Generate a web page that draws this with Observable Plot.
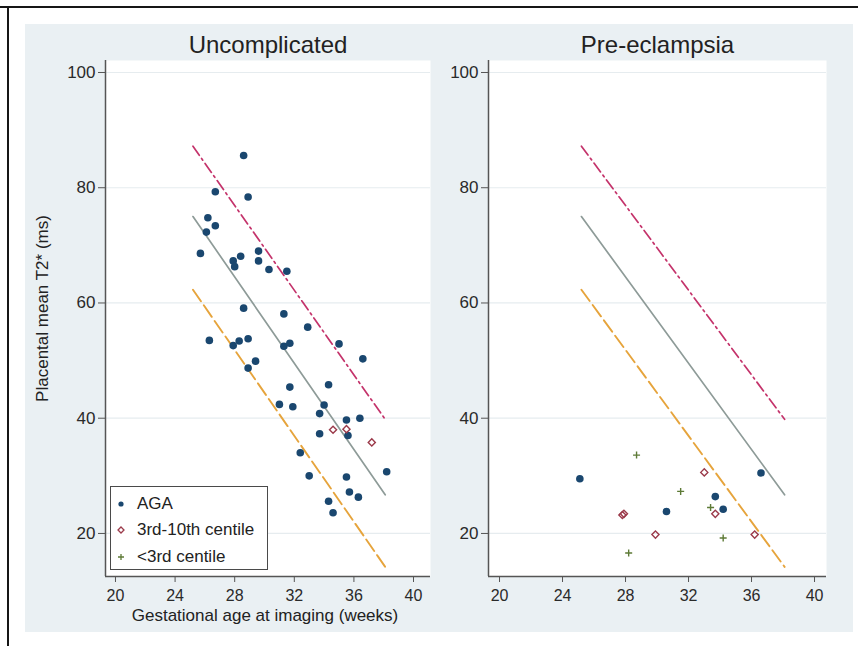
<!DOCTYPE html>
<html>
<head>
<meta charset="utf-8">
<script src="https://cdn.jsdelivr.net/npm/d3@7"></script>
<script src="https://cdn.jsdelivr.net/npm/@observablehq/plot@0.6"></script>
<style>
  body { margin: 0; background: #fff; }
  #wrap { position: relative; width: 858px; height: 646px; overflow: hidden; font-family: "Liberation Sans", Arial, sans-serif; background: #fff; }
  #bg { position: absolute; left: 25px; top: 24px; width: 828px; height: 608px; background: #eaf0f3; }
  #bt { position: absolute; left: 0; top: 6px; width: 858px; height: 2px; background: #161616; }
  #bl { position: absolute; left: 7px; top: 6px; width: 2px; height: 640px; background: #161616; }
  .panel { position: absolute; top: 0; }
  #legend { position: absolute; left: 110px; top: 486px; width: 158px; height: 84px; background: #fff; border: 1.5px solid #4a4a4a; box-sizing: border-box; }
  .lrow { position: absolute; left: 0; height: 20px; line-height: 20px; font-size: 17px; color: #222; white-space: nowrap; }
  .lrow svg { position: absolute; left: 4px; top: 4px; }
  .lrow span { position: absolute; left: 26px; top: 0; }
</style>
</head>
<body>
<div id="wrap">
  <div id="bg"></div>
  <div id="bt"></div>
  <div id="bl"></div>
</div>
<script>
// ---------- data ----------
const panelTitles = ["Uncomplicated", "Pre-eclampsia"];
const seriesNames = ["AGA", "3rd-10th centile", "<3rd centile"];
const xTicks = [20, 24, 28, 32, 36, 40];
const yTicks = [20, 40, 60, 80, 100];
const xTitle = "Gestational age at imaging (weeks)";
const yTitle = "Placental mean T2* (ms)";

// Uncomplicated: AGA
const uncAgaX = [28.6, 26.7, 28.9, 26.2, 26.7, 26.1, 25.7, 27.9, 28.0, 28.4, 29.6, 29.6, 30.3, 31.5, 28.6,
  31.3, 32.9, 26.3, 28.3, 28.9, 27.9, 31.3, 31.7, 35.0, 36.6, 29.4, 28.9, 31.7, 34.3, 31.0,
  31.9, 34.0, 33.7, 35.5, 36.4, 33.7, 35.6, 32.4, 33.0, 35.5, 38.2, 35.7, 36.3, 34.3, 34.6];
const uncAgaY = [85.6, 79.3, 78.4, 74.8, 73.4, 72.3, 68.6, 67.3, 66.3, 68.1, 69.0, 67.3, 65.8, 65.5, 59.1,
  58.1, 55.8, 53.5, 53.4, 53.8, 52.6, 52.5, 53.0, 52.9, 50.3, 49.9, 48.7, 45.4, 45.8, 42.4,
  42.0, 42.3, 40.8, 39.7, 40.0, 37.3, 37.0, 34.0, 30.0, 29.8, 30.7, 27.2, 26.3, 25.6, 23.6];
// Uncomplicated: 3rd-10th centile
const uncMidX = [34.6, 35.5, 37.2];
const uncMidY = [38.0, 38.1, 35.8];
// Uncomplicated: <3rd centile
const uncLowX = [];
const uncLowY = [];

// Pre-eclampsia
const peAgaX = [25.1, 30.6, 33.7, 34.2, 36.6];
const peAgaY = [29.5, 23.8, 26.4, 24.2, 30.5];
const peMidX = [27.8, 27.9, 29.9, 33.0, 33.7, 36.2];
const peMidY = [23.2, 23.4, 19.8, 30.6, 23.4, 19.8];
const peLowX = [28.7, 31.5, 33.4, 34.2, 28.2];
const peLowY = [33.6, 27.3, 24.5, 19.2, 16.6];

// Reference centile lines
const centileX = [25.2, 38.1];
const centileUpper = [87.2, 39.8];
const centileMedian = [75.0, 26.7];
const centileLower = [62.3, 14.2];

// ---------- styling ----------
const colAga = "#1a476f", colMid = "#9b3a4a", colLow = "#5d7a36";
const colUpper = "#c4336b", colMedian = "#8e9b98", colLower = "#e6a43c";
const font = "'Liberation Sans', Arial, sans-serif";
const yDomain = [12.53, 102.08];

const zip = (xs, ys) => xs.map((x, i) => ({x, y: ys[i]}));

function makePanel({width, ml, mr, xDomain, title, aga, mid, low, showYLabel, showXLabel}) {
  const marks = [
    Plot.frame({fill: "white", stroke: "none"}),
    Plot.gridY(yTicks, {stroke: "#e6ecef", strokeOpacity: 1, strokeWidth: 1.2}),
    Plot.line(zip(centileX, centileUpper), {x: "x", y: "y", stroke: colUpper, strokeWidth: 1.7, strokeDasharray: "11,4,2,4"}),
    Plot.line(zip(centileX, centileMedian), {x: "x", y: "y", stroke: colMedian, strokeWidth: 1.7}),
    Plot.line(zip(centileX, centileLower), {x: "x", y: "y", stroke: colLower, strokeWidth: 1.9, strokeDasharray: "14,5"}),
    Plot.dot(aga, {x: "x", y: "y", r: 3.8, fill: colAga, stroke: "none"}),
    Plot.dot(mid, {x: "x", y: "y", symbol: "diamond2", r: 3.2, stroke: colMid, strokeWidth: 1.4, fill: "none"}),
    Plot.dot(low, {x: "x", y: "y", symbol: "plus", r: 2.4, stroke: colLow, strokeWidth: 1.4}),
    Plot.axisY(yTicks, {tickSize: 7, tickPadding: 3, label: null, stroke: "#555", fill: "#2a2a2a", fontSize: 17}),
    Plot.axisX(xTicks, {tickSize: 6, tickPadding: 7, label: null, stroke: "#555", fill: "#2a2a2a", fontSize: 16}),
    Plot.ruleX([xDomain[0]], {stroke: "#555", strokeWidth: 1.5}),
    Plot.ruleY([yDomain[0]], {stroke: "#555", strokeWidth: 1.5}),
    Plot.text([title], {frameAnchor: "top", dy: -8, lineAnchor: "bottom", fontSize: 24, fill: "#222"})
  ];
  if (showXLabel) marks.push(Plot.text([xTitle], {frameAnchor: "bottom", dx: -3, dy: 39, lineAnchor: "middle", fontSize: 17, fill: "#222"}));
  if (showYLabel) marks.push(Plot.text([yTitle], {frameAnchor: "left", dx: -63, dy: -10, rotate: -90, textAnchor: "middle", lineAnchor: "middle", fontSize: 17, fill: "#222"}));
  return Plot.plot({
    width, height: 646,
    marginLeft: ml, marginRight: mr, marginTop: 60, marginBottom: 70,
    x: {domain: xDomain},
    y: {domain: yDomain},
    style: {fontFamily: font, fontSize: "17px", background: "transparent", overflow: "visible"},
    marks
  });
}

const wrap = document.getElementById("wrap");

const left = makePanel({
  width: 440, ml: 105, mr: 10, xDomain: [19.33, 41.14], title: panelTitles[0],
  aga: zip(uncAgaX, uncAgaY), mid: zip(uncMidX, uncMidY), low: zip(uncLowX, uncLowY),
  showYLabel: true, showXLabel: true
});
left.classList.add("panel");
left.style.left = "0px";
wrap.appendChild(left);

const right = makePanel({
  width: 418, ml: 48, mr: 32, xDomain: [19.30, 40.76], title: panelTitles[1],
  aga: zip(peAgaX, peAgaY), mid: zip(peMidX, peMidY), low: zip(peLowX, peLowY),
  showYLabel: false, showXLabel: false
});
right.classList.add("panel");
right.style.left = "440px";
wrap.appendChild(right);

// legend
const legend = document.createElement("div");
legend.id = "legend";
const symbols = [
  `<circle cx="6" cy="6" r="2.6" fill="${colAga}"/>`,
  `<path d="M6,3 L9,6 L6,9 L3,6 Z" fill="none" stroke="${colMid}" stroke-width="1.3"/>`,
  `<path d="M6,3 V9 M3,6 H9" fill="none" stroke="${colLow}" stroke-width="1.3"/>`
];
const rowTops = [7, 33, 60];
seriesNames.forEach((name, i) => {
  const row = document.createElement("div");
  row.className = "lrow";
  row.style.top = rowTops[i] + "px";
  row.innerHTML = `<svg width="12" height="12">${symbols[i]}</svg>`;
  const span = document.createElement("span");
  span.textContent = name;
  row.appendChild(span);
  legend.appendChild(row);
});
wrap.appendChild(legend);
</script>
</body>
</html>
